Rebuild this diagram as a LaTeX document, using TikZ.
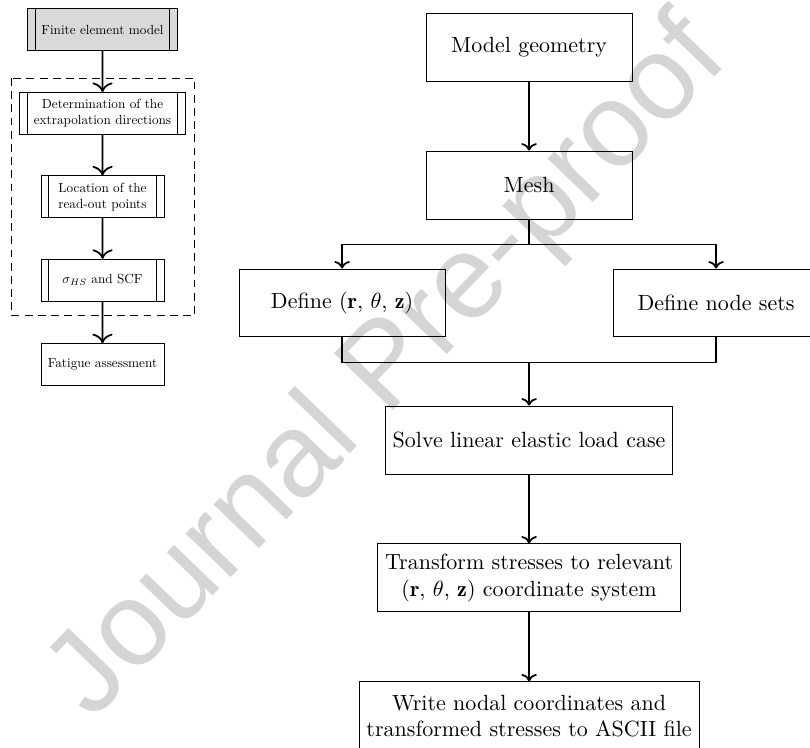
\documentclass[tikz,border=0pt]{standalone}
\usepackage{fontspec}
\usepackage{tikz}
\usetikzlibrary{arrows.meta,positioning,calc}
\newfontfamily\wmfont{Liberation Sans}
\definecolor{femgrey}{HTML}{D9D9D9}
\definecolor{wmgrey}{HTML}{D5D5D5}

\begin{document}
\begin{tikzpicture}[
    box/.style={draw, minimum width=93.6pt, minimum height=30.9pt, align=center},
    sbox/.style={draw, minimum width=93.3pt, minimum height=31.8pt, align=center},
    pbox/.style={sbox, inner xsep=10.7pt, path picture={
        \draw ([xshift=6pt]path picture bounding box.north west) -- ([xshift=6pt]path picture bounding box.south west)
              ([xshift=-6pt]path picture bounding box.north east) -- ([xshift=-6pt]path picture bounding box.south east);}},
    arr/.style={->, thick},
    larr/.style={-{To[scale=1.3]}, thick},
    grp/.style={draw, dash pattern=on 3.6pt off 2.4pt}]
    \useasboundingbox (0,0) rectangle (368.2pt,-340pt);
    \clip (0,0) rectangle (368.2pt,-340pt);
    \node[rotate=46, text=wmgrey, font=\wmfont\fontsize{54}{58}\selectfont] (wm) at (177pt,-168pt) {Journal Pre-proof};

    \begin{scope}[shift={(46.6pt,-13.6pt)}, scale=0.6, transform shape]
    \node[pbox, fill=femgrey] (fem) at (0,0) {Finite element model};
    \node[pbox, below=31pt of fem] (dirs) {Determination of the\\extrapolation directions};
    \node[pbox, below=31pt of dirs] (readout) {Location of the\\read-out points};
    \node[pbox, below=31pt of readout] (shs) {$\sigma_{HS}$ and SCF};
    \node[sbox, below=31.7pt of shs] (fatigue) {Fatigue assessment};
    \draw[grp] ($(dirs.north west)+(-6pt,10.7pt)$) rectangle ($(shs.south -| dirs.east)+(6.8pt,-10.7pt)$);
    \draw[larr] (fem) -- (dirs); \draw[larr] (dirs) -- (readout); \draw[larr] (readout) -- (shs);
    \draw[larr] (shs) -- (fatigue);
    \end{scope}

    \node[box] (geom) at (240.5pt,-21.4pt) {Model geometry};
    \node[box, below=31.4pt of geom] (mesh) {Mesh};
    \coordinate[below=11.4pt of mesh] (split);
    \node[box, below=22.3pt of mesh, xshift=-85pt] (polar) {Define ($\mathbf{r}$, $\theta$, $\mathbf{z}$)};
    \node[box, below=22.3pt of mesh, xshift=85pt] (nsets) {Define node sets};
    \coordinate (mid) at (polar.south -| mesh.south);
    \coordinate[below=11.4pt of mid] (merge);
    \node[box, below=19.6pt of merge] (solve) {Solve linear elastic load case};
    \node[box, below=31.4pt of solve] (trans) {Transform stresses to relevant\\($\mathbf{r}$, $\theta$, $\mathbf{z}$) coordinate system};
    \node[box, below=31.4pt of trans] (write) {Write nodal coordinates and\\transformed stresses to ASCII file};
    \draw[arr] (geom) -- (mesh); \draw[thick] (mesh) -- (split);
    \draw[arr] (split) -| (polar); \draw[arr] (split) -| (nsets);
    \draw[thick] (polar) |- (merge); \draw[thick] (nsets) |- (merge);
    \draw[arr] (merge) -- (solve); \draw[arr] (solve) -- (trans); \draw[arr] (trans) -- (write);
  \end{tikzpicture}
\end{document}
